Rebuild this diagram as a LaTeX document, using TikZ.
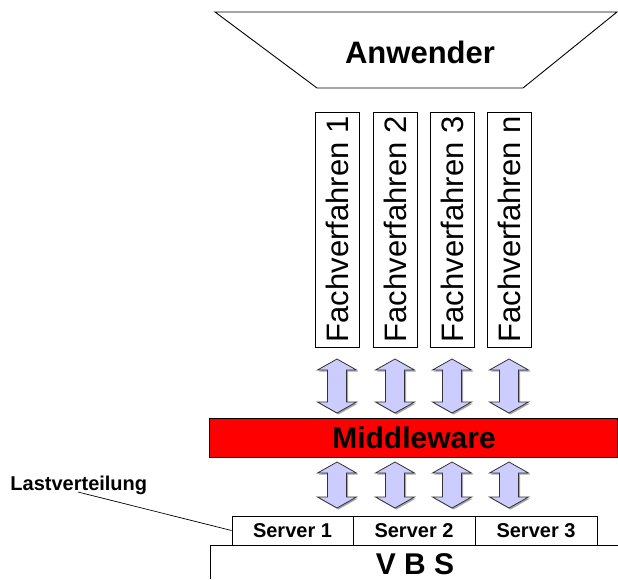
\documentclass[tikz,border=0pt]{standalone}
\usepackage{fontspec}
\setmainfont{Liberation Sans}
\definecolor{arrowfill}{RGB}{204,204,255}
\begin{document}
\begin{tikzpicture}[x=1pt,y=-1pt,line width=0.9pt,
  fvbox/.style={draw,rotate=90,minimum width=235pt,minimum height=44pt,inner sep=0pt,font=\fontsize{31}{36}\selectfont},
  srvbox/.style={draw,minimum height=29pt,inner sep=0pt,font=\bfseries\fontsize{20}{23}\selectfont},
  bigbold/.style={font=\bfseries\fontsize{30}{35}\selectfont,inner sep=0pt},
  dblarrow/.style={draw=black!80,fill=arrowfill,line width=0.8pt,line join=miter}]
\useasboundingbox (0,0) rectangle (618,579);
% Anwender trapezoid
\draw (215,12) -- (617,12) -- (523,88) -- (317,88) -- cycle;
\node[bigbold,font=\bfseries\fontsize{31}{36}\selectfont,anchor=base] (anw) at (420,63) {Anwender};
% Fachverfahren boxes
\node[fvbox] (f1) at (337,229.5) {Fachverfahren 1};
\node[fvbox] (f2) at (395,229.5) {Fachverfahren 2};
\node[fvbox] (f3) at (452,229.5) {Fachverfahren 3};
\node[fvbox] (f4) at (509,229.5) {Fachverfahren n};
% double arrows
\foreach \cx in {337,395,452,509}{
  \foreach \ya/\yb in {359/413,462/508}{
    \begin{scope}[shift={(1.5,1.5)}]
    \fill[black!35] (\cx,\ya) -- (\cx+19.5,\ya+11) -- (\cx+9.5,\ya+11) -- (\cx+9.5,\yb-11) -- (\cx+19.5,\yb-11) -- (\cx,\yb) -- (\cx-19.5,\yb-11) -- (\cx-9.5,\yb-11) -- (\cx-9.5,\ya+11) -- (\cx-19.5,\ya+11) -- cycle;
    \end{scope}
    \draw[dblarrow] (\cx,\ya) -- (\cx+19.5,\ya+11) -- (\cx+9.5,\ya+11) -- (\cx+9.5,\yb-11) -- (\cx+19.5,\yb-11) -- (\cx,\yb) -- (\cx-19.5,\yb-11) -- (\cx-9.5,\yb-11) -- (\cx-9.5,\ya+11) -- (\cx-19.5,\ya+11) -- cycle;
  }
}
% Middleware
\node[draw,fill=red,minimum width=408pt,minimum height=39pt,inner sep=0pt] (mw) at (413,437.5) {};
\node[bigbold,anchor=base] (mwt) at (414,448) {Middleware};
% Servers
\node[srvbox,minimum width=121pt] (s1) at (292.5,530.5) {Server 1};
\node[srvbox,minimum width=122pt] (s2) at (414,530.5) {Server 2};
\node[srvbox,minimum width=122pt] (s3) at (536,530.5) {Server 3};
% VBS
\draw (210,579) -- (210,545.5) -- (618,545.5);
\node[bigbold,anchor=base] (vbs) at (415,574.5) {V B S};
% Lastverteilung
\node[anchor=base west,inner sep=0pt,font=\bfseries\fontsize{20}{23}\selectfont] (lv) at (10,490) {Lastverteilung};
\coordinate (lvpt) at (78,492);
\draw[line width=0.7pt] (lvpt) -- (s1.west);
\end{tikzpicture}
\end{document}
